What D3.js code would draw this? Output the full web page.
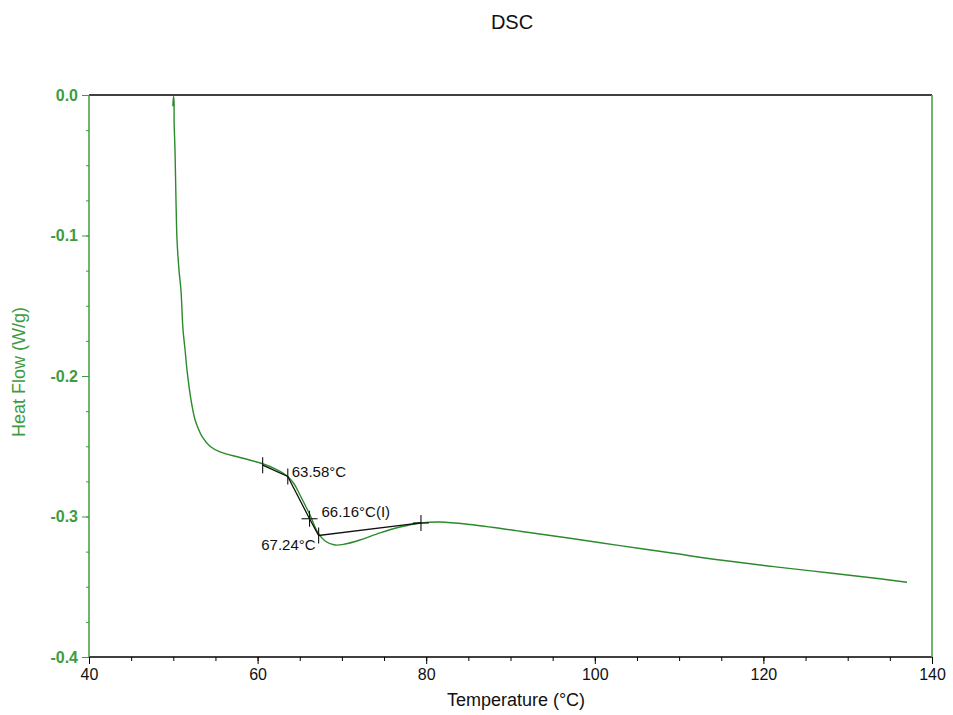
<!DOCTYPE html>
<html>
<head>
<meta charset="utf-8">
<script src="https://cdn.jsdelivr.net/npm/d3@7"></script>
<style>
  body { margin: 0; background: #fff; }
  svg { font-family: "Liberation Sans", Arial, sans-serif; }
</style>
</head>
<body>
<svg id="chart" width="953" height="715"></svg>
<script>
// heat flow curve
var temps = [49.95, 50.02, 50.08, 50.1, 50.2, 50.32, 50.44, 50.68, 50.91, 51.15, 51.39, 51.63,
  52.1, 52.57, 53.0, 53.4, 54.35, 55.54, 57.91, 60.52, 62.2, 63.49, 64.3, 65.03, 66.22,
  67.17, 68.0, 69.18, 70.37, 72.15, 74.52, 76.89, 79.38, 81.64, 85.2, 91.13, 97.06,
  102.99, 108.92, 114.85, 121.97, 127.9, 133.83, 137.03];
var flows = [-0.008, -0.001, -0.004, -0.02, -0.039, -0.075, -0.103, -0.125, -0.139, -0.167, -0.181, -0.196,
  -0.217, -0.231, -0.238, -0.243, -0.25, -0.254, -0.258, -0.2623, -0.2665, -0.2712, -0.2765, -0.2847, -0.299,
  -0.3117, -0.3174, -0.3203, -0.3196, -0.3167, -0.3117, -0.3075, -0.3046, -0.3039, -0.3057, -0.3105, -0.3155,
  -0.3207, -0.3258, -0.3310, -0.3362, -0.3402, -0.3443, -0.3468];

// glass transition analysis line and markers
var anaT = [60.6, 63.58, 66.16, 67.24, 79.38];
var anaHF = [-0.2635, -0.2715, -0.3016, -0.3135, -0.3046];
var markKind = ["tick", "tick", "cross", "tick", "cross"];
var anaLabels = [
  { i: 1, text: "63.58°C", dx: 4, dy: 1, anchor: "start" },
  { i: 2, text: "66.16°C(I)", dx: 12, dy: -2, anchor: "start" },
  { i: 3, text: "67.24°C", dx: -3, dy: 15, anchor: "end" }
];

var xTicks = [40, 60, 80, 100, 120, 140];
var yTicks = [0.0, -0.1, -0.2, -0.3, -0.4];

var green = "#2b8a2b";
var axisGreen = "#3f9b3f";

var svg = d3.select("#chart");
var margin = { left: 89, right: 21, top: 95, bottom: 58 };
var W = 953, H = 715;

var x = d3.scaleLinear().domain([40, 140]).range([margin.left, W - margin.right]);
var y = d3.scaleLinear().domain([-0.4, 0.0]).range([H - margin.bottom, margin.top]);

// title
svg.append("text")
  .attr("x", 512).attr("y", 29)
  .attr("text-anchor", "middle")
  .attr("font-size", 20)
  .attr("fill", "#111")
  .text("DSC");

// x axis: minor then major
svg.append("g")
  .attr("transform", "translate(0," + y(-0.4) + ")")
  .call(d3.axisBottom(x).tickValues(d3.range(40, 141, 5)).tickSize(4).tickFormat(""))
  .call(function (g) { g.select(".domain").remove() })
  .selectAll("line").attr("stroke", "#000");

var xAxis = svg.append("g")
  .attr("transform", "translate(0," + y(-0.4) + ")")
  .call(d3.axisBottom(x).tickValues(xTicks).tickSize(7).tickSizeOuter(0).tickFormat(d3.format("d")));
xAxis.select(".domain").remove();
xAxis.selectAll("line").attr("stroke", "#000");
xAxis.selectAll("text").attr("font-size", 16).attr("fill", "#111").attr("dy", "0.8em")
  .attr("font-family", "Liberation Sans, Arial, sans-serif");

// y axis
svg.append("g")
  .attr("transform", "translate(" + x(40) + ",0)")
  .call(d3.axisLeft(y).tickValues(d3.range(0, 17).map(function (i) { return -i * 0.025 })).tickSize(3).tickFormat(""))
  .call(function (g) { g.select(".domain").remove() })
  .selectAll("line").attr("stroke", axisGreen);

var yAxis = svg.append("g")
  .attr("transform", "translate(" + x(40) + ",0)")
  .call(d3.axisLeft(y).tickValues(yTicks).tickSize(7).tickFormat(d3.format(".1f")));
yAxis.select(".domain").remove();
yAxis.selectAll("line").attr("stroke", axisGreen);
yAxis.selectAll("text").attr("font-size", 16).attr("font-weight", "bold").attr("fill", axisGreen)
  .attr("x", -11).attr("font-family", "Liberation Sans, Arial, sans-serif")
  .text(function (d) { return d === 0 ? "0.0" : d3.format(".1f")(d).replace("−", "-") });

// frame
var x0 = x(40), x1 = x(140), y0 = y(0), y1 = y(-0.4);
svg.append("line").attr("x1", x0).attr("x2", x1).attr("y1", y0).attr("y2", y0).attr("stroke", "#000").attr("stroke-width", 1.5);
svg.append("line").attr("x1", x0).attr("x2", x1).attr("y1", y1).attr("y2", y1).attr("stroke", "#000").attr("stroke-width", 1.5);
svg.append("line").attr("x1", x0).attr("x2", x0).attr("y1", y0).attr("y2", y1).attr("stroke", axisGreen).attr("stroke-width", 1.5);
svg.append("line").attr("x1", x1).attr("x2", x1).attr("y1", y0).attr("y2", y1).attr("stroke", axisGreen).attr("stroke-width", 1.5);

// axis titles
svg.append("text")
  .attr("x", 516).attr("y", 706)
  .attr("text-anchor", "middle").attr("font-size", 18).attr("fill", "#111")
  .text("Temperature (°C)");
svg.append("text")
  .attr("transform", "translate(25," + 372 + ") rotate(-90)")
  .attr("text-anchor", "middle").attr("font-size", 18).attr("fill", axisGreen)
  .text("Heat Flow (W/g)");

// curve
var pts = temps.map(function (t, i) { return [t, flows[i]] });
svg.append("path")
  .datum(pts)
  .attr("fill", "none")
  .attr("stroke", green)
  .attr("stroke-width", 1.4)
  .attr("d", d3.line().curve(d3.curveCatmullRom.alpha(0.5))
    .x(function (d) { return x(d[0]) }).y(function (d) { return y(d[1]) }));

// analysis overlay
var ana = anaT.map(function (t, i) { return [t, anaHF[i]] });
svg.append("path")
  .datum(ana)
  .attr("fill", "none")
  .attr("stroke", "#111")
  .attr("stroke-width", 1.3)
  .attr("d", d3.line().x(function (d) { return x(d[0]) }).y(function (d) { return y(d[1]) }));

var marks = svg.append("g").attr("stroke", "#111").attr("stroke-width", 1.1);
ana.forEach(function (d, i) {
  var cx = x(d[0]), cy = y(d[1]);
  marks.append("line").attr("x1", cx).attr("x2", cx).attr("y1", cy - 8).attr("y2", cy + 8);
  if (markKind[i] === "cross") {
    marks.append("line").attr("x1", cx - 8).attr("x2", cx + 8).attr("y1", cy).attr("y2", cy);
  }
});

anaLabels.forEach(function (l) {
  svg.append("text")
    .attr("x", x(anaT[l.i]) + l.dx)
    .attr("y", y(anaHF[l.i]) + l.dy)
    .attr("text-anchor", l.anchor)
    .attr("font-size", 15)
    .attr("fill", "#111")
    .text(l.text);
});
</script>
</body>
</html>
